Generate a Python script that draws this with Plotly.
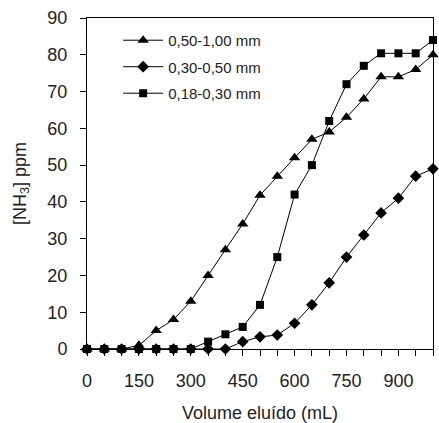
import plotly.graph_objects as go

volume = [0, 50, 100, 150, 200, 250, 300, 350, 400, 450, 500, 550, 600, 650, 700, 750, 800, 850, 900, 950, 1000]
s_050_100 = [0, 0, 0, 1, 5, 8, 13, 20, 27, 34, 41.8, 47, 52, 57, 59, 63, 68, 74, 74, 76, 80]
s_030_050 = [0, 0, 0, 0, 0, 0, 0, 0, 0, 2, 3.3, 3.8, 7, 12, 18, 25, 31, 37, 41, 47, 49]
s_018_030 = [0, 0, 0, 0, 0, 0, 0, 2, 4, 6, 12, 25, 42, 50, 62, 72, 77, 80.4, 80.4, 80.4, 84]
names = ["0,50-1,00 mm", "0,30-0,50 mm", "0,18-0,30 mm"]
x_ticks = [0, 150, 300, 450, 600, 750, 900]

font = "Liberation Sans, Arial, sans-serif"
fig = go.Figure()
for i, (name, ys, sym, sz) in enumerate([(names[0], s_050_100, "triangle-up", 10),
                                         (names[1], s_030_050, "diamond", 9),
                                         (names[2], s_018_030, "square", 8)]):
    fig.add_trace(go.Scatter(x=volume, y=ys, name=name, mode="lines+markers",
                             legendgroup=f"g{i}",
                             line=dict(color="black", width=1),
                             marker=dict(symbol=sym, size=sz, color="black"),
                             cliponaxis=False))

fig.update_layout(
    width=439, height=423,
    margin=dict(l=87, r=6, t=18, b=74, autoexpand=False),
    paper_bgcolor="white", plot_bgcolor="white",
    font=dict(family=font, size=18, color="#222"),
    showlegend=True,
    legend=dict(x=0.09, y=0.982, xanchor="left", yanchor="top",
                bgcolor="rgba(0,0,0,0)", font=dict(size=15), tracegroupgap=4,
                traceorder="grouped", itemwidth=40),
)
fig.update_xaxes(range=[0, 1000], tickvals=x_ticks, ticks="outside", ticklen=6,
                 tickcolor="black", showline=True, linecolor="black", linewidth=1,
                 mirror=True, showgrid=False, zeroline=False, automargin=False,
                 minor=dict(dtick=50, tick0=0, ticks="outside", ticklen=6, tickcolor="black", showgrid=False),
                 ticklabelstandoff=9,
                 title=dict(text="Volume eluído (mL)", font=dict(size=18), standoff=24))
fig.update_yaxes(range=[0, 90], dtick=10, ticks="outside", ticklen=6,
                 tickcolor="black", showline=True, linecolor="black", linewidth=1,
                 mirror=True, showgrid=False, zeroline=False, automargin=False,
                 ticklabelstandoff=9,
                 title=dict(text="[NH<sub>3</sub>] ppm", font=dict(size=18), standoff=16))

fig.write_html("out.html", config={"displayModeBar": False},
               post_script="document.body.style.margin='0';")
